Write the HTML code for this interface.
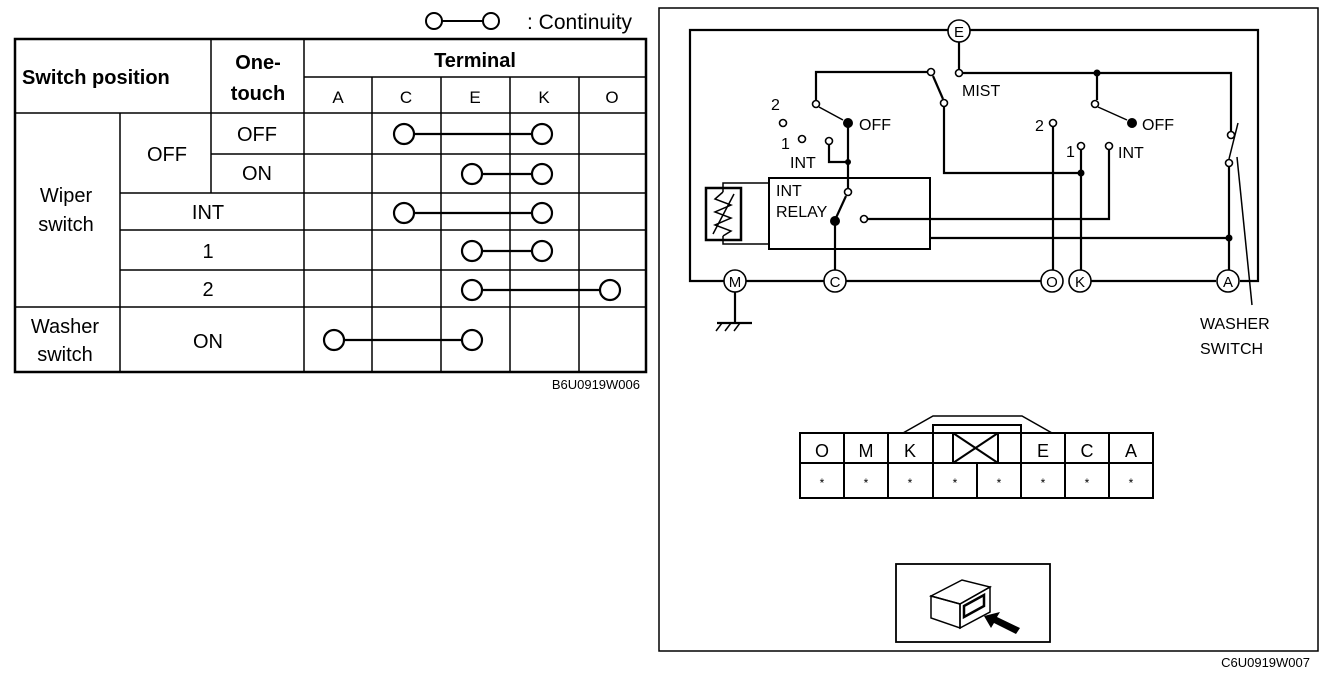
<!DOCTYPE html>
<html><head><meta charset="utf-8"><style>
html,body{margin:0;padding:0;background:#fff;}
svg{display:block;}
text{font-family:"Liberation Sans",Arial,sans-serif;fill:#000;}
</style></head><body>
<svg width="1344" height="676" viewBox="0 0 1344 676" xmlns="http://www.w3.org/2000/svg">
<g stroke="#000" fill="none">
<!-- legend -->
<circle cx="434" cy="21" r="8" stroke-width="2"/><line x1="442" y1="21" x2="483" y2="21" stroke-width="2"/><circle cx="491" cy="21" r="8" stroke-width="2"/>
<!-- table -->
<rect x="15" y="39" width="631" height="333" stroke-width="2.5"/>
<g stroke-width="1.5">
<line x1="15" y1="113" x2="646" y2="113"/>
<line x1="304" y1="77" x2="646" y2="77"/>
<line x1="211" y1="154" x2="646" y2="154"/>
<line x1="120" y1="193" x2="646" y2="193"/>
<line x1="120" y1="230" x2="646" y2="230"/>
<line x1="120" y1="270" x2="646" y2="270"/>
<line x1="15" y1="307" x2="646" y2="307"/>
<line x1="120" y1="113" x2="120" y2="372"/>
<line x1="211" y1="39" x2="211" y2="193"/>
<line x1="304" y1="39" x2="304" y2="372"/>
<line x1="372" y1="77" x2="372" y2="372"/>
<line x1="441" y1="77" x2="441" y2="372"/>
<line x1="510" y1="77" x2="510" y2="372"/>
<line x1="579" y1="77" x2="579" y2="372"/>
</g>
<g stroke-width="2.2">
<circle cx="404" cy="134" r="10"/><line x1="414" y1="134" x2="532" y2="134"/><circle cx="542" cy="134" r="10"/>
<circle cx="472" cy="174" r="10"/><line x1="482" y1="174" x2="532" y2="174"/><circle cx="542" cy="174" r="10"/>
<circle cx="404" cy="213" r="10"/><line x1="414" y1="213" x2="532" y2="213"/><circle cx="542" cy="213" r="10"/>
<circle cx="472" cy="251" r="10"/><line x1="482" y1="251" x2="532" y2="251"/><circle cx="542" cy="251" r="10"/>
<circle cx="472" cy="290" r="10"/><line x1="482" y1="290" x2="600" y2="290"/><circle cx="610" cy="290" r="10"/>
<circle cx="334" cy="340" r="10"/><line x1="344" y1="340" x2="462" y2="340"/><circle cx="472" cy="340" r="10"/>
</g>
<!-- right frame -->
<rect x="659" y="8" width="659" height="643" stroke-width="1.5"/>
<g stroke-width="2.2">
<polyline points="949,30 690,30 690,281 724,281"/>
<polyline points="970,30 1258,30 1258,281 1240,281"/>
<line x1="746" y1="281" x2="824" y2="281"/>
<line x1="846" y1="281" x2="1041" y2="281"/>
<line x1="1091" y1="281" x2="1216" y2="281"/>
<line x1="959" y1="42" x2="959" y2="70"/>
<polyline points="963,73 1231,73 1231,131"/>
<line x1="1097" y1="73" x2="1097" y2="100"/>
<polyline points="927,72 816,72 816,100"/>
<line x1="933" y1="76" x2="943" y2="99"/>
<polyline points="944,107 944,173 1081,173"/>
<line x1="1081" y1="150" x2="1081" y2="270"/>
<line x1="1053" y1="127" x2="1053" y2="270"/>
<polyline points="1109,150 1109,219 868,219"/>
<polyline points="829,145 829,162 848,162"/>
<line x1="848" y1="123" x2="848" y2="188"/>
<line x1="846" y1="196" x2="835" y2="220"/>
<line x1="835" y1="220" x2="835" y2="270"/>
<polyline points="930,238 1228,238"/>
<line x1="1229" y1="167" x2="1229" y2="270"/>
<line x1="735" y1="292" x2="735" y2="323"/>
<line x1="717" y1="323" x2="752" y2="323"/>
</g>
<g stroke-width="1.5">
<line x1="1229" y1="159" x2="1238" y2="123"/>
<line x1="1237" y1="157" x2="1252" y2="305"/>
<line x1="722" y1="323" x2="716" y2="331"/><line x1="731" y1="323" x2="725" y2="331"/><line x1="740" y1="323" x2="734" y2="331"/>
<line x1="819" y1="107" x2="843" y2="120"/>
<line x1="1098" y1="107" x2="1127" y2="120"/>
<rect x="769" y="178" width="161" height="71" stroke-width="2"/>
<rect x="706" y="188" width="35" height="52" stroke-width="2.5"/>
<polyline points="769,183 723,183 723,192"/>
<polyline points="769,244 723,244 723,236"/>
<polyline points="723,192 715,199 731,205 715,212 731,218 715,225 731,231 723,236"/>
<line x1="713" y1="234" x2="734" y2="194"/>
</g>
<g stroke-width="1.6" fill="#fff">
<circle cx="959" cy="73" r="3.5"/><circle cx="931" cy="72" r="3.5"/><circle cx="944" cy="103" r="3.5"/>
<circle cx="816" cy="104" r="3.5"/><circle cx="783" cy="123" r="3.5"/><circle cx="802" cy="139" r="3.5"/>
<circle cx="829" cy="141" r="3.5"/><circle cx="848" cy="192" r="3.5"/><circle cx="864" cy="219" r="3.5"/>
<circle cx="1053" cy="123" r="3.5"/><circle cx="1081" cy="146" r="3.5"/><circle cx="1109" cy="146" r="3.5"/>
<circle cx="1095" cy="104" r="3.5"/><circle cx="1231" cy="135" r="3.5"/><circle cx="1229" cy="163" r="3.5"/>
<circle cx="959" cy="31" r="11"/><circle cx="735" cy="281" r="11"/><circle cx="835" cy="281" r="11"/>
<circle cx="1052" cy="281" r="11"/><circle cx="1080" cy="281" r="11"/><circle cx="1228" cy="281" r="11"/>
</g>
<g fill="#000" stroke="none">
<circle cx="848" cy="123" r="5"/><circle cx="1132" cy="123" r="5"/><circle cx="835" cy="221" r="5"/>
<circle cx="1097" cy="73" r="3.5"/><circle cx="848" cy="162" r="3"/><circle cx="1081" cy="173" r="3.5"/><circle cx="1229" cy="238" r="3.5"/>
</g>
<!-- connector -->
<g stroke-width="2">
<rect x="800" y="433" width="353" height="65"/>
<line x1="800" y1="463" x2="1153" y2="463"/>
<line x1="844" y1="433" x2="844" y2="498"/><line x1="888" y1="433" x2="888" y2="498"/>
<line x1="933" y1="425" x2="933" y2="498"/><line x1="977" y1="463" x2="977" y2="498"/>
<line x1="1021" y1="425" x2="1021" y2="498"/><line x1="1065" y1="433" x2="1065" y2="498"/>
<line x1="1109" y1="433" x2="1109" y2="498"/>
<polyline points="933,433 933,425 1021,425 1021,433"/>
<polyline points="903,433 933,416 1022,416 1052,433" stroke-width="1.5"/>
<rect x="953" y="433" width="45" height="30"/>
<line x1="953" y1="433" x2="998" y2="463"/><line x1="998" y1="433" x2="953" y2="463"/>
<rect x="896" y="564" width="154" height="78" stroke-width="1.8"/>
<g stroke-width="1.5">
<polygon points="931,596 962,580 990,587 960,604"/>
<polygon points="931,596 960,604 960,628 931,618"/>
<polygon points="960,604 990,587 990,612 960,628"/>
<polygon points="964,606 984,595 984,606 964,617" stroke-width="2.5"/>
</g>
</g>
<polygon points="984,616 1000,612 997,617 1020,628 1016,634 994,623 991,628" fill="#000" stroke="none"/>
</g>
<g font-size="21">
<text x="527" y="29">: Continuity</text>
<text x="22" y="84" font-weight="bold" font-size="20">Switch position</text>
<text x="258" y="69" font-weight="bold" font-size="20" text-anchor="middle">One-</text>
<text x="258" y="100" font-weight="bold" font-size="20" text-anchor="middle">touch</text>
<text x="475" y="67" font-weight="bold" font-size="20" text-anchor="middle">Terminal</text>
<g font-size="17" text-anchor="middle">
<text x="338" y="103">A</text><text x="406" y="103">C</text><text x="475" y="103">E</text><text x="544" y="103">K</text><text x="612" y="103">O</text>
</g>
<g text-anchor="middle" font-size="20">
<text x="257" y="141">OFF</text><text x="257" y="180">ON</text>
<text x="167" y="161">OFF</text>
<text x="208" y="219">INT</text><text x="208" y="258">1</text><text x="208" y="296">2</text>
<text x="208" y="348">ON</text>
<text x="66" y="202">Wiper</text><text x="66" y="231">switch</text>
<text x="65" y="333">Washer</text><text x="65" y="361">switch</text>
</g>
<text x="640" y="389" font-size="13" text-anchor="end">B6U0919W006</text>
<text x="1310" y="667" font-size="13" text-anchor="end">C6U0919W007</text>
<g font-size="16">
<text x="959" y="37" text-anchor="middle" font-size="15">E</text>
<text x="735" y="287" text-anchor="middle" font-size="15">M</text>
<text x="835" y="287" text-anchor="middle" font-size="15">C</text>
<text x="1052" y="287" text-anchor="middle" font-size="15">O</text>
<text x="1080" y="287" text-anchor="middle" font-size="15">K</text>
<text x="1228" y="287" text-anchor="middle" font-size="15">A</text>
<text x="962" y="96">MIST</text>
<text x="859" y="130">OFF</text><text x="1142" y="130">OFF</text>
<text x="771" y="110">2</text><text x="781" y="149">1</text><text x="790" y="168">INT</text>
<text x="1035" y="131">2</text>
<text x="1066" y="157">1</text><text x="1118" y="158">INT</text>
<text x="776" y="196">INT</text><text x="776" y="217">RELAY</text>
<text x="1200" y="329">WASHER</text><text x="1200" y="354">SWITCH</text>
</g>
<g font-size="18" text-anchor="middle">
<text x="822" y="457">O</text><text x="866" y="457">M</text><text x="910" y="457">K</text>
<text x="1043" y="457">E</text><text x="1087" y="457">C</text><text x="1131" y="457">A</text>
</g>
<g font-size="12" text-anchor="middle">
<text x="822" y="487">*</text><text x="866" y="487">*</text><text x="910" y="487">*</text><text x="955" y="487">*</text>
<text x="999" y="487">*</text><text x="1043" y="487">*</text><text x="1087" y="487">*</text><text x="1131" y="487">*</text>
</g>
</g>
</svg>
</body></html>
